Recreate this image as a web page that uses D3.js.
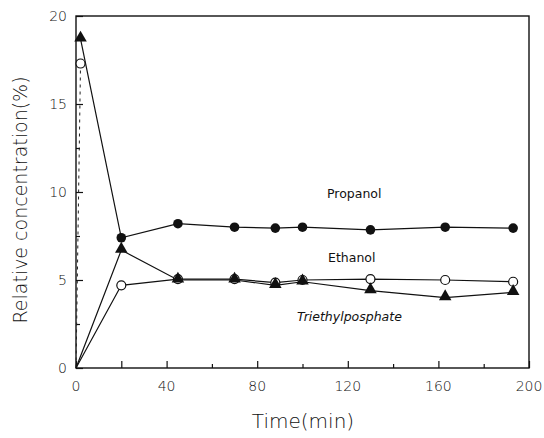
<!DOCTYPE html>
<html>
<head>
<meta charset="utf-8">
<script src="https://cdn.jsdelivr.net/npm/d3@7/dist/d3.min.js"></script>
<style>
  html, body { margin: 0; padding: 0; background: #fff; }
  svg { display: block; }
  text { font-family: "DejaVu Sans", "Liberation Sans", sans-serif; fill: #111; }
</style>
</head>
<body>
<svg id="chart" width="544" height="438"></svg>
<script>
// Sampling times (min) and measured relative concentrations (%)
const propanolTime = [2, 20, 45, 70, 88, 100, 130, 163, 193];
const propanolConc = [18.7, 7.4, 8.2, 8.0, 7.95, 8.0, 7.85, 8.0, 7.95];

const ethanolTime = [0, 20, 45, 70, 88, 100, 130, 163, 193];
const ethanolConc = [0, 4.7, 5.05, 5.05, 4.85, 5.0, 5.05, 5.0, 4.9];

const tepTime = [0, 20, 45, 70, 88, 100, 130, 163, 193];
const tepConc = [0, 6.7, 5.0, 5.0, 4.7, 4.9, 4.4, 4.0, 4.3];

// Initial readings at the start of the run
const startTime = [2, 2];
const startConc = [18.7, 17.3];

const xTicks = [0, 40, 80, 120, 160, 200];
const yTicks = [0, 5, 10, 15, 20];

const svg = d3.select("#chart");
const m = { left: 76, right: 15, top: 16, bottom: 70 };
const W = 544, H = 438;

const x = d3.scaleLinear().domain([0, 200]).range([m.left, W - m.right]);
const y = d3.scaleLinear().domain([0, 20]).range([H - m.bottom, m.top]);

const g = svg.append("g");

// Frame
g.append("rect")
  .attr("x", x(0)).attr("y", y(20))
  .attr("width", x(200) - x(0)).attr("height", y(0) - y(20))
  .attr("fill", "none").attr("stroke", "#111").attr("stroke-width", 1.4);

// Inward ticks: majors labelled, minors in between
const xAxis = d3.axisTop(x).tickValues(d3.range(0, 201, 20)).tickSize(4).tickFormat("");
g.append("g").attr("transform", `translate(0,${y(0)})`).call(xAxis)
  .call(a => a.select(".domain").remove());
const yAxis = d3.axisRight(y).tickValues(d3.range(0, 20.1, 2.5))
  .tickSize(4).tickFormat("");
g.append("g").attr("transform", `translate(${x(0)},0)`).call(yAxis)
  .call(a => a.select(".domain").remove());
g.selectAll(".tick line").attr("stroke", "#111").attr("stroke-width", 1.2);
// longer ticks at the labelled positions
g.selectAll(".tick").filter(d => xTicks.includes(d) || yTicks.includes(d))
  .select("line").each(function() {
    const l = d3.select(this);
    if (l.attr("x2") !== null && +l.attr("x2") !== 0) l.attr("x2", 7);
    if (l.attr("y2") !== null && +l.attr("y2") !== 0) l.attr("y2", -7);
  });

// Tick labels
g.append("g").selectAll("text").data(xTicks).join("text")
  .attr("x", d => x(d)).attr("y", y(0) + 23)
  .attr("text-anchor", "middle").attr("font-size", 14).attr("font-weight", 300).text(d => d);
g.append("g").selectAll("text").data(yTicks).join("text")
  .attr("x", x(0) - 9).attr("y", d => y(d) + 5)
  .attr("text-anchor", "end").attr("font-size", 14).attr("font-weight", 300).text(d => d);

// Axis titles
g.append("text").attr("x", 303).attr("y", 428)
  .attr("text-anchor", "middle").attr("font-size", 20).attr("font-weight", 300).text("Time(min)");
g.append("text")
  .attr("transform", `translate(27,${(y(0) + y(20)) / 2 + 8}) rotate(-90)`)
  .attr("text-anchor", "middle").attr("font-size", 19).attr("font-weight", 300)
  .text("Relative concentration(%)");

const line = d3.line().x(d => x(d[0])).y(d => y(d[1]));
const pts = (t, c) => t.map((v, i) => [v, c[i]]);

const prop = pts(propanolTime, propanolConc);
const eth = pts(ethanolTime, ethanolConc);
const tep = pts(tepTime, tepConc);
const start = pts(startTime, startConc);

// Dashed trace from the initial ethanol reading down to the origin
g.append("path").datum([start[1], [0, 0]]).attr("d", line)
  .attr("fill", "none").attr("stroke", "#222").attr("stroke-width", 1)
  .attr("stroke-dasharray", "3,4");

[prop, eth, tep].forEach(s => {
  g.append("path").datum(s).attr("d", line)
    .attr("fill", "none").attr("stroke", "#111").attr("stroke-width", 1.2);
});

const tri = d3.symbol().type(d3.symbolTriangle).size(68);

// Ethanol: open circles
g.append("g").selectAll("circle").data(eth.slice(1).concat([start[1]])).join("circle")
  .attr("cx", d => x(d[0])).attr("cy", d => y(d[1])).attr("r", 4.5)
  .attr("fill", "#fff").attr("stroke", "#111").attr("stroke-width", 1.2);
// Triethylphosphate: filled triangles
g.append("g").selectAll("path").data(tep.slice(1).concat([start[0]])).join("path")
  .attr("d", tri).attr("transform", d => `translate(${x(d[0])},${y(d[1]) - 1})`)
  .attr("fill", "#111");
// Propanol: filled circles
g.append("g").selectAll("circle").data(prop.slice(1)).join("circle")
  .attr("cx", d => x(d[0])).attr("cy", d => y(d[1])).attr("r", 4.8)
  .attr("fill", "#111");

// Series labels
g.append("text").attr("x", 327).attr("y", 198).attr("font-size", 12.5).text("Propanol");
g.append("text").attr("x", 328).attr("y", 262).attr("font-size", 12.5).text("Ethanol");
g.append("text").attr("x", 297).attr("y", 321).attr("font-size", 12.5)
  .attr("font-style", "italic").text("Triethylposphate");
</script>
</body>
</html>
